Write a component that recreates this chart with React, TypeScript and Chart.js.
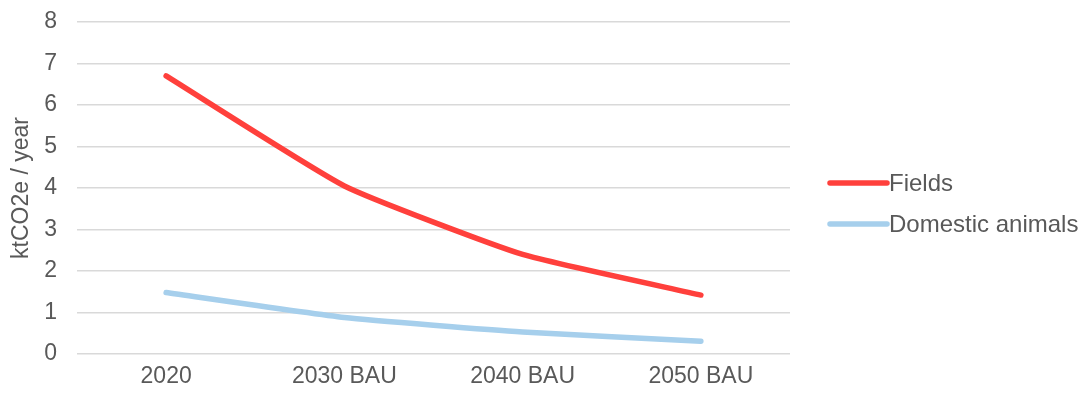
import React, { useEffect, useRef } from "react";
import { Chart, registerables } from "chart.js";

Chart.register(...registerables);

const categories = ["2020", "2030 BAU", "2040 BAU", "2050 BAU"];
const fieldsValues = [6.7, 4.05, 2.4, 1.42];
const animalsValues = [1.48, 0.88, 0.53, 0.31];
const seriesNames = ["Fields", "Domestic animals"];
const yTicks = [0, 1, 2, 3, 4, 5, 6, 7, 8];
const yTitle = "ktCO2e / year";

const FONT = "'Liberation Sans', Arial, sans-serif";
const TEXT = "#595959";

const legendPlugin = {
  id: "sideLegend",
  afterDraw(chart: any) {
    const ctx = chart.ctx;
    const area = chart.chartArea;
    const x0 = area.right + 40;
    const lineLen = 57;
    const ys = [183, 224];
    ctx.save();
    chart.data.datasets.forEach((ds: any, i: number) => {
      const y = ys[i];
      ctx.strokeStyle = ds.borderColor;
      ctx.lineWidth = 5.5;
      ctx.lineCap = "round";
      ctx.beginPath();
      ctx.moveTo(x0, y);
      ctx.lineTo(x0 + lineLen, y);
      ctx.stroke();
      ctx.fillStyle = TEXT;
      ctx.font = `24px ${FONT}`;
      ctx.textBaseline = "middle";
      ctx.textAlign = "left";
      ctx.fillText(ds.label, x0 + lineLen + 2, y + 1);
    });
    ctx.restore();
  },
};

export default function App() {
  const ref = useRef<HTMLCanvasElement>(null);
  useEffect(() => {
    if (!ref.current) return;
    const chart = new Chart(ref.current, {
      type: "line",
      data: {
        labels: categories,
        datasets: [
          {
            label: seriesNames[0],
            data: fieldsValues,
            borderColor: "rgb(255,64,60)",
            backgroundColor: "rgb(255,64,60)",
            borderWidth: 5.5,
            pointRadius: 0,
            tension: 0.15,
            borderCapStyle: "round",
          },
          {
            label: seriesNames[1],
            data: animalsValues,
            borderColor: "rgb(166,207,236)",
            backgroundColor: "rgb(166,207,236)",
            borderWidth: 5.5,
            pointRadius: 0,
            tension: 0.15,
            borderCapStyle: "round",
          },
        ],
      },
      options: {
        animation: false,
        responsive: false,
        maintainAspectRatio: false,
        layout: { padding: { left: 0, right: 296, top: 22, bottom: 0 } },
        plugins: {
          legend: { display: false },
          tooltip: { enabled: false },
        },
        scales: {
          x: {
            offset: true,
            grid: { display: false, drawTicks: false },
            border: { display: false },
            ticks: {
              color: TEXT,
              font: { family: FONT, size: 23 },
              padding: 9,
              maxRotation: 0,
            },
            afterFit(s: any) {
              s.height = 40;
              s.paddingLeft = 0;
              s.paddingRight = 0;
            },
          },
          y: {
            min: 0,
            max: 8,
            afterBuildTicks(s: any) {
              s.ticks = yTicks.map((v) => ({ value: v }));
            },
            grid: { color: "#d9d9d9", lineWidth: 1.5, drawTicks: false },
            border: { display: false },
            ticks: {
              color: TEXT,
              font: { family: FONT, size: 23 },
              padding: 20,
            },
            title: {
              display: true,
              text: yTitle,
              color: TEXT,
              font: { family: FONT, size: 23 },
              padding: { top: 8, bottom: 0 },
            },
            afterFit(s: any) {
              s.width = 77;
              s.paddingTop = 0;
              s.paddingBottom = 0;
            },
          },
        },
      },
      plugins: [legendPlugin],
    });
    return () => chart.destroy();
  }, []);
  return (
    <div style={{ position: "absolute", left: 0, top: 0, width: 1086, height: 394, background: "#fff" }}>
      <canvas ref={ref} width={1086} height={394} />
    </div>
  );
}
